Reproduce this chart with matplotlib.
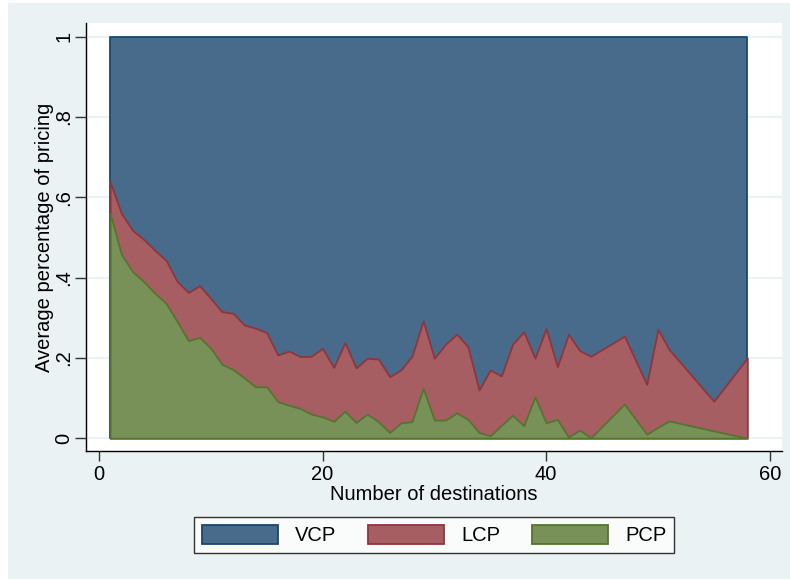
import numpy as np
import matplotlib
matplotlib.use('Agg')
import matplotlib.pyplot as plt
from matplotlib.patches import Rectangle, Patch

plt.rcParams['font.family'] = ['Liberation Sans', 'DejaVu Sans']

# number of destinations (x) and average share of each pricing type
n_dest = [1, 2, 3, 4, 5, 6, 7, 8, 9, 10, 11, 12, 13, 14, 15, 16, 17, 18, 19, 20,
          21, 22, 23, 24, 25, 26, 27, 28, 29, 30, 31, 32, 33, 34, 35, 36, 37, 38, 39, 40,
          41, 42, 43, 44, 47, 49, 50, 51, 55, 58]
pcp = [0.560, 0.458, 0.415, 0.390, 0.361, 0.336, 0.290, 0.243, 0.251, 0.224,
       0.184, 0.171, 0.150, 0.128, 0.128, 0.091, 0.082, 0.074, 0.060, 0.053,
       0.042, 0.067, 0.039, 0.060, 0.041, 0.014, 0.038, 0.041, 0.124, 0.045,
       0.045, 0.063, 0.047, 0.014, 0.006, 0.032, 0.057, 0.031, 0.103, 0.038,
       0.047, 0.003, 0.020, 0.001, 0.085, 0.010, 0.027, 0.043, 0.018, 0.000]
lcp = [0.078, 0.102, 0.103, 0.105, 0.107, 0.107, 0.100, 0.120, 0.129, 0.124,
       0.131, 0.140, 0.132, 0.146, 0.135, 0.116, 0.135, 0.129, 0.144, 0.171,
       0.134, 0.171, 0.136, 0.139, 0.156, 0.139, 0.132, 0.163, 0.168, 0.154,
       0.189, 0.196, 0.181, 0.106, 0.164, 0.123, 0.177, 0.234, 0.096, 0.235,
       0.131, 0.256, 0.198, 0.203, 0.169, 0.124, 0.244, 0.178, 0.074, 0.200]

x = np.array(n_dest)
p = np.array(pcp)
l = np.array(lcp)
v = 1 - p - l  # VCP is the remainder

bg = '#EAF2F3'
fs = 14.5
fig = plt.figure(figsize=(7.9, 5.79), dpi=100, facecolor='white')
fig.patches.append(Rectangle((8/790, 0), 1 - 8/790, 1 - 3/579, transform=fig.transFigure,
                             facecolor=bg, edgecolor='none', zorder=-10))

ax = fig.add_axes([86/790, 1 - 451/579, (782-86)/790, (451-23)/579])
ax.set_facecolor('white')

# stacked areas, drawn from top total down
ax.fill_between(x, 0, p + l + v, facecolor='#486B8C', edgecolor='#1A476F', lw=1.3, zorder=3)
ax.fill_between(x, 0, p + l, facecolor='#A65E62', edgecolor='#90353B', lw=1.3, zorder=4)
ax.fill_between(x, 0, p, facecolor='#779158', edgecolor='#55752F', lw=1.3, zorder=5)

ax.set_xlim(-1.16, 61.1)
ax.set_ylim(-0.032, 1.034)
ax.set_xticks([0, 20, 40, 60])
ax.set_yticks([0, 0.2, 0.4, 0.6, 0.8, 1])
ax.set_yticklabels(['0', '.2', '.4', '.6', '.8', '1'], rotation=90, va='center')
for yy in [0, 0.2, 0.4, 0.6, 0.8, 1]:
    ax.axhline(yy, color=bg, lw=1.5, zorder=1)

for s in ['top', 'right']:
    ax.spines[s].set_visible(False)
for s in ['left', 'bottom']:
    ax.spines[s].set_linewidth(1.0)
    ax.spines[s].set_color('black')
ax.tick_params(axis='y', length=8, width=1, color='#333333', labelsize=fs, pad=1)
ax.tick_params(axis='x', length=7, width=1, color='#333333', labelsize=fs, pad=3)

ax.set_xlabel('Number of destinations', fontsize=fs, labelpad=1)
ax.set_ylabel('Average percentage of pricing', fontsize=fs, labelpad=0)

handles = [Patch(facecolor='#486B8C', edgecolor='#1A476F', lw=1.3),
           Patch(facecolor='#A65E62', edgecolor='#90353B', lw=1.3),
           Patch(facecolor='#779158', edgecolor='#55752F', lw=1.3)]
leg = fig.legend(handles, ['VCP', 'LCP', 'PCP'], loc='center', bbox_to_anchor=(434/790, 1 - 535/579),
                 ncol=3, fontsize=fs, frameon=True, fancybox=False, handlelength=3.8,
                 handleheight=1.1, handletextpad=0.85, columnspacing=1.55, borderpad=0.4)
leg.get_frame().set_edgecolor('black')
leg.get_frame().set_linewidth(1.0)

fig.savefig('out.png', dpi=100, facecolor=fig.get_facecolor())
